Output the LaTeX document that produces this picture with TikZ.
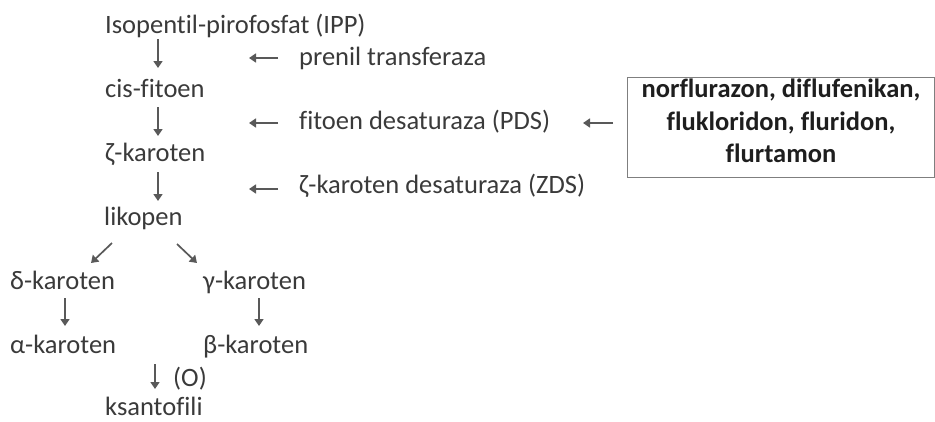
\documentclass[tikz,border=0pt]{standalone}
\usepackage{fontspec}
\setmainfont{Carlito}[Ligatures={NoCommon}]
\usetikzlibrary{arrows.meta}
\definecolor{txt}{HTML}{3A3A3A}
\definecolor{arr}{HTML}{595959}
\definecolor{boxline}{HTML}{7F7F7F}
\definecolor{boxtxt}{HTML}{1E1E1E}
\begin{document}
\begin{tikzpicture}[x=1pt,y=-1pt,
  lbl/.style={anchor=base west, inner sep=0pt, text=txt, font=\fontsize{26.5}{32}\selectfont},
  flow/.style={draw=arr, line width=1.7pt, -{Triangle[length=7pt,width=9pt]}},
  framebox/.style={draw=boxline, line width=1.4pt, anchor=north west, inner sep=0pt, minimum width=307pt, minimum height=100pt},
  boldtxt/.style={anchor=north, inner sep=0pt, align=center, text=boxtxt, font=\fontsize{26.5}{32.5}\selectfont\bfseries}
]
\useasboundingbox (0,0) rectangle (935,421);
% main pathway
\node[lbl] (ipp)   at (105,33)  {Isopentil-pirofosfat (IPP)};
\node[lbl] (cis)   at (105,97)  {cis-fitoen};
\node[lbl] (zeta)  at (105,161) {ζ-karoten};
\node[lbl] (lik)   at (104,225) {likopen};
\node[lbl] (delta) at (10,289)  {δ-karoten};
\node[lbl] (gamma) at (203,289) {γ-karoten};
\node[lbl] (alpha) at (10,353)  {α-karoten};
\node[lbl] (beta)  at (203,353) {β-karoten};
\node[lbl] (oxy)   at (173,386) {(O)};
\node[lbl] (ksa)   at (105,415.5) {ksantofili};
% enzymes
\node[lbl] (pren) at (299,65)  {prenil transferaza};
\node[lbl] (pds)  at (299,129) {fitoen desaturaza (PDS)};
\node[lbl] (zds)  at (299,193) {ζ-karoten desaturaza (ZDS)};
% inhibitor box
\node[framebox] (box) at (626.5,77) {};
\node[boldtxt] (inh) at (781,79) {norflurazon, diflufenikan,\\ flukloridon, fluridon,\\ flurtamon};
% arrow coordinates
\coordinate (a1s) at (158,39);  \coordinate (a1e) at (158,68);
\coordinate (a2s) at (158,107); \coordinate (a2e) at (158,136);
\coordinate (a3s) at (158,172); \coordinate (a3e) at (158,201);
\coordinate (e1s) at (278,58);  \coordinate (e1e) at (249,58);
\coordinate (e2s) at (278,123); \coordinate (e2e) at (249,123);
\coordinate (e3s) at (278,189); \coordinate (e3e) at (249,189);
\coordinate (bxs) at (613,123); \coordinate (bxe) at (583,123);
\coordinate (d1s) at (112,243); \coordinate (d1e) at (91,263);
\coordinate (d2s) at (177,244); \coordinate (d2e) at (197,263);
\coordinate (l1s) at (65,298);  \coordinate (l1e) at (65,326);
\coordinate (r1s) at (259,298); \coordinate (r1e) at (259,326);
\coordinate (o1s) at (155,364); \coordinate (o1e) at (155,389);
\draw[flow] (a1s) -- (a1e);
\draw[flow] (a2s) -- (a2e);
\draw[flow] (a3s) -- (a3e);
\draw[flow] (e1s) -- (e1e);
\draw[flow] (e2s) -- (e2e);
\draw[flow] (e3s) -- (e3e);
\draw[flow] (bxs) -- (bxe);
\draw[flow] (d1s) -- (d1e);
\draw[flow] (d2s) -- (d2e);
\draw[flow] (l1s) -- (l1e);
\draw[flow] (r1s) -- (r1e);
\draw[flow] (o1s) -- (o1e);
\end{tikzpicture}
\end{document}
